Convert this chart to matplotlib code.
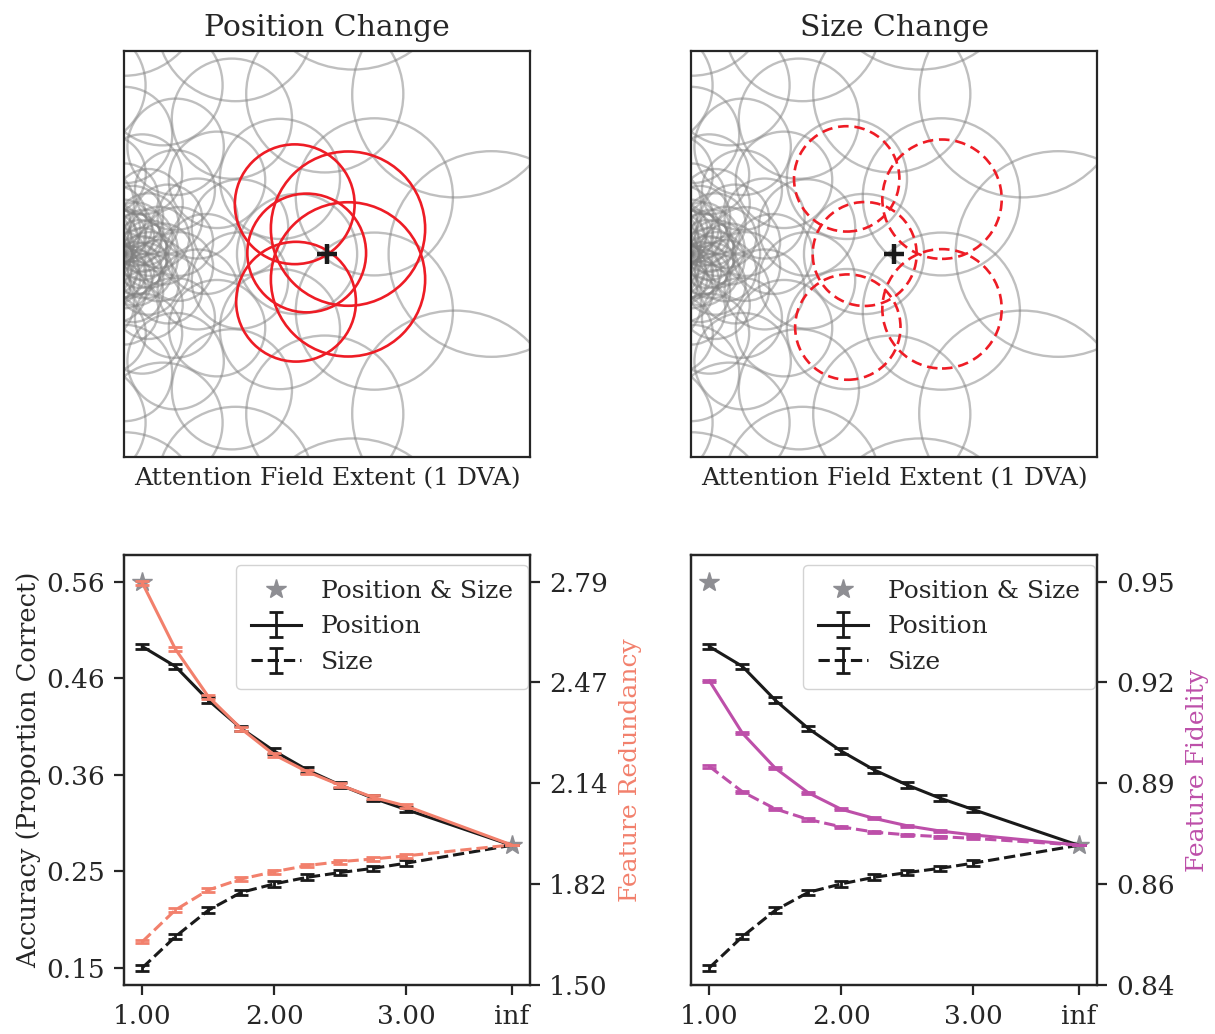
import numpy as np
import matplotlib
matplotlib.use('Agg')
import matplotlib.pyplot as plt
from matplotlib.patches import Circle

# ---------------- data ----------------
x_vals = [1.0, 1.25, 1.5, 1.75, 2.0, 2.25, 2.5, 2.75, 3.0, 3.8]
x_tick_pos = [1.0, 2.0, 3.0, 3.8]
x_tick_labels = ['1.00', '2.00', '3.00', 'inf']

acc_position = [0.491, 0.470, 0.434, 0.404, 0.380, 0.360, 0.344, 0.330, 0.318, 0.280]
acc_position_err = [0.003, 0.003, 0.003, 0.003, 0.003, 0.003, 0.003, 0.003, 0.003, 0.0]
acc_size = [0.150, 0.183, 0.211, 0.230, 0.239, 0.246, 0.251, 0.2555, 0.261, 0.280]
acc_size_err = [0.003, 0.003, 0.003, 0.003, 0.003, 0.003, 0.003, 0.003, 0.003, 0.0]
both_x = [1.0, 3.8]
acc_both = [0.560, 0.280]

redund_position = [2.785, 2.574, 2.422, 2.319, 2.236, 2.182, 2.139, 2.100, 2.0725, 1.948]
redund_size = [1.639, 1.740, 1.804, 1.839, 1.8625, 1.882, 1.8945, 1.903, 1.913, 1.948]
redund_err = [0.006] * 9 + [0.0]

fidel_position = [0.9217, 0.9068, 0.8968, 0.8898, 0.8851, 0.8825, 0.8804, 0.8789, 0.8778, 0.8749]
fidel_size = [0.8973, 0.8901, 0.8852, 0.8822, 0.8801, 0.8786, 0.8778, 0.8773, 0.8768, 0.8749]
fidel_err = [0.0003] * 9 + [0.0]

acc_ticks = [0.15, 0.2525, 0.355, 0.4575, 0.56]
acc_tick_labels = ['0.15', '0.25', '0.36', '0.46', '0.56']
red_ticks = [1.5, 1.8225, 2.145, 2.4675, 2.79]
red_tick_labels = ['1.50', '1.82', '2.14', '2.47', '2.79']
fid_ticks = [0.835, 0.86375, 0.8925, 0.92125, 0.95]
fid_tick_labels = ['0.84', '0.86', '0.89', '0.92', '0.95']

# receptive-field rings (eccentricity, radius in DVA, angular phase)
ring_ecc = [3.62, 2.53, 1.705, 1.172, 0.805, 0.553, 0.380, 0.261, 0.180]
ring_radius = [1.013, 0.774, 0.592, 0.475, 0.394, 0.339, 0.301, 0.274, 0.257]
ring_phase = [0, 0.5, 0, 0.5, 0, 0.5, 0, 0.5, 0]
n_per_ring = 14

pos_cx = [1.682, 1.800, 1.695, 2.207, 2.207]
pos_cy = [0.49, 0.01, -0.47, 0.25, -0.25]
pos_r = [0.59, 0.585, 0.59, 0.76, 0.76]

size_cx = [1.534, 1.711, 1.545, 2.473, 2.473]
size_cy = [0.74, 0.0, -0.72, 0.54, -0.54]
size_r = [0.519, 0.512, 0.519, 0.588, 0.588]

attend_x, attend_y = 2.0, 0.0

# ---------------- style ----------------
plt.rcParams['font.family'] = ['DejaVu Serif']
dark = '0.15'
plt.rcParams['text.color'] = dark
plt.rcParams['axes.labelcolor'] = dark
plt.rcParams['xtick.color'] = dark
plt.rcParams['ytick.color'] = dark
plt.rcParams['axes.edgecolor'] = dark
plt.rcParams['axes.linewidth'] = 1.6

salmon = '#F2806C'
magenta = '#BD4FA9'
star_gray = '#8E8E93'
red = '#EE1C25'

W, H = 1215, 1034
fig = plt.figure(figsize=(W / 100, H / 100), dpi=100)


def px_axes(x0, y0, x1, y1):
    return fig.add_axes([x0 / W, 1 - y1 / H, (x1 - x0) / W, (y1 - y0) / H])


def draw_rf(ax):
    for e, r, ph in zip(ring_ecc, ring_radius, ring_phase):
        for j in range(n_per_ring):
            th = (j + ph) * 2 * np.pi / n_per_ring
            c = Circle((e * np.cos(th), e * np.sin(th)), r, fill=False,
                       ec='gray', alpha=0.5, lw=1.7)
            ax.add_patch(c)
    ax.set_xlim(0, 4)
    ax.set_ylim(-2, 2)
    ax.set_aspect('equal')
    ax.set_xticks([])
    ax.set_yticks([])


ax_t1 = px_axes(124, 51, 530, 457)
ax_t2 = px_axes(691, 51, 1097, 457)
for ax in (ax_t1, ax_t2):
    draw_rf(ax)
for cx, cy, r in zip(pos_cx, pos_cy, pos_r):
    ax_t1.add_patch(Circle((cx, cy), r, fill=False, ec=red, lw=1.9, zorder=5))
for cx, cy, r in zip(size_cx, size_cy, size_r):
    ax_t2.add_patch(Circle((cx, cy), r, fill=False, ec=red, lw=1.9, ls=(0, (4, 2.2)), zorder=5))
for ax in (ax_t1, ax_t2):
    ax.plot([attend_x], [attend_y], marker='+', color='0.1', ms=15, mew=3.2, zorder=6)
ax_t1.set_title('Position Change', fontsize=21.5, pad=11)
ax_t2.set_title('Size Change', fontsize=21.5, pad=11)
ax_t1.set_xlabel('Attention Field Extent (1 DVA)', fontsize=18, labelpad=7)
ax_t2.set_xlabel('Attention Field Extent (1 DVA)', fontsize=18, labelpad=7)

# ---------------- bottom panels ----------------
ax_b1 = px_axes(124, 555, 530, 985)
ax_b2 = px_axes(691, 555, 1097, 985)

eb_kw = dict(lw=2.2, elinewidth=2.0, capsize=5, capthick=2.0)
tick_kw = dict(labelsize=19, direction='out', length=7.5, width=1.6, pad=6)

for ax in (ax_b1, ax_b2):
    ax.plot(both_x, acc_both, ls='none', marker='*', ms=15, color=star_gray,
            label='Position & Size', zorder=1)
    ax.errorbar(x_vals, acc_position, yerr=acc_position_err, color='0.1', ls='-',
                label='Position', **eb_kw)
    ax.errorbar(x_vals, acc_size, yerr=acc_size_err, color='0.1', ls='--',
                label='Size', **eb_kw)
    ax.set_ylim(0.1316, 0.5883)
    ax.set_yticks(acc_ticks)
    ax.set_xticks(x_tick_pos)
    ax.set_xticklabels(x_tick_labels)
    ax.tick_params(axis='both', **tick_kw)
    ax.legend(loc='upper right', bbox_to_anchor=(0.995, 0.977), borderaxespad=0,
              fontsize=18, borderpad=0.6, framealpha=0.85,
              edgecolor='0.8', handlelength=2.0)

ax_b1.set_yticklabels(acc_tick_labels)
ax_b1.set_ylabel('Accuracy (Proportion Correct)', fontsize=18.5, labelpad=4)

tw1 = ax_b1.twinx()
tw1.errorbar(x_vals, redund_position, yerr=redund_err, color=salmon, ls='-', **eb_kw)
tw1.errorbar(x_vals, redund_size, yerr=redund_err, color=salmon, ls='--', **eb_kw)
tw1.set_ylim(1.5, 2.875)
tw1.set_yticks(red_ticks)
tw1.set_yticklabels(red_tick_labels)
tw1.tick_params(axis='y', **tick_kw)
tw1.set_ylabel('Feature Redundancy', fontsize=18, color=salmon, labelpad=8)

tw2 = ax_b2.twinx()
tw2.errorbar(x_vals, fidel_position, yerr=fidel_err, color=magenta, ls='-', **eb_kw)
tw2.errorbar(x_vals, fidel_size, yerr=fidel_err, color=magenta, ls='--', **eb_kw)
tw2.set_ylim(0.835, 0.9576)
tw2.set_yticks(fid_ticks)
tw2.set_yticklabels(fid_tick_labels)
tw2.tick_params(axis='y', **tick_kw)
tw2.set_ylabel('Feature Fidelity', fontsize=18, color=magenta, labelpad=8)

ax_b2.tick_params(axis='y', left=False, labelleft=False)

fig.savefig('out.png', dpi=100)
